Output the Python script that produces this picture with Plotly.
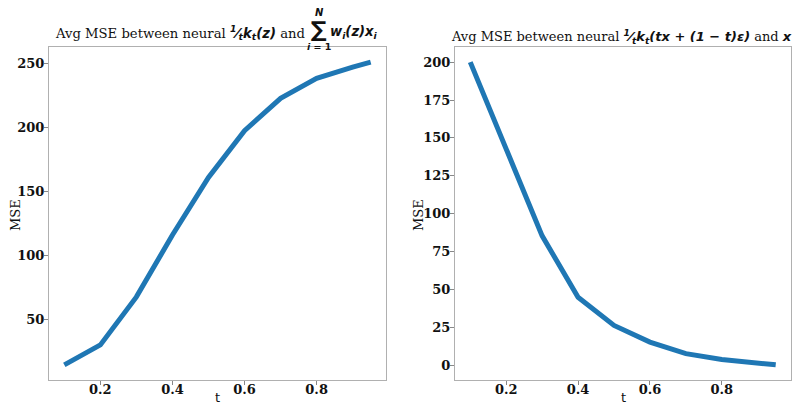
import plotly.graph_objects as go

t_vals = [0.1, 0.2, 0.3, 0.4, 0.5, 0.6, 0.7, 0.8, 0.9, 0.95]
mse_weighted = [14.4, 30.0, 67.6, 116.0, 161.0, 197.6, 223.0, 238.6, 247.4, 251.3]
mse_noisy = [200.0, 142.0, 85.4, 44.9, 26.3, 15.3, 7.7, 3.9, 1.5, 0.3]

x_ticks = [0.2, 0.4, 0.6, 0.8]
y_ticks_left = [50, 100, 150, 200, 250]
y_ticks_right = [0, 25, 50, 75, 100, 125, 150, 175, 200]

BLUE = "#1f77b4"
SERIF = "DejaVu Serif"
SANS = "DejaVu Sans"
W, H = 797, 405


def padded(vals, frac=0.05):
    lo, hi = min(vals), max(vals)
    p = (hi - lo) * frac
    return [lo - p, hi + p]


fig = go.Figure()
fig.add_trace(go.Scatter(x=t_vals, y=mse_weighted, mode="lines",
                         line=dict(color=BLUE, width=5), xaxis="x", yaxis="y",
                         showlegend=False))
fig.add_trace(go.Scatter(x=t_vals, y=mse_noisy, mode="lines",
                         line=dict(color=BLUE, width=5), xaxis="x2", yaxis="y2",
                         showlegend=False))

ydom = [1 - 380 / H, 1 - 47 / H]
axis_common = dict(showgrid=False, zeroline=False, showline=True, mirror=True,
                   linecolor="#b0b0b0", linewidth=1, ticks="outside",
                   ticklen=4, tickcolor="#888", automargin=False,
                   tickfont=dict(family=SERIF, size=13, color="#111"))
xcommon = dict(axis_common, ticklabelstandoff=-7)
ycommon = dict(axis_common, ticklabelstandoff=-3)

fig.update_layout(
    width=W, height=H,
    margin=dict(l=0, r=0, t=0, b=0, autoexpand=False),
    paper_bgcolor="white", plot_bgcolor="white",
    xaxis=dict(domain=[49 / W, 386 / W], range=padded(t_vals), tickvals=x_ticks,
               ticktext=["<b>%.1f</b>" % v for v in x_ticks], **xcommon),
    yaxis=dict(domain=ydom, range=padded(mse_weighted), tickvals=y_ticks_left,
               ticktext=["<b>%d</b>" % v for v in y_ticks_left], **ycommon),
    xaxis2=dict(domain=[455 / W, 791 / W], range=padded(t_vals), tickvals=x_ticks,
                ticktext=["<b>%.1f</b>" % v for v in x_ticks], anchor="y2", **xcommon),
    yaxis2=dict(domain=ydom, range=padded(mse_noisy), tickvals=y_ticks_right,
                ticktext=["<b>%d</b>" % v for v in y_ticks_right], anchor="x2", **ycommon),
)


def ann(text, px, py, size, family=SERIF, angle=0, xanchor="center"):
    fig.add_annotation(text=text, x=px / W, y=1 - py / H, xref="paper", yref="paper",
                       xanchor=xanchor, yanchor="middle", showarrow=False, textangle=angle,
                       font=dict(family=family, size=size, color="#111"))


# axis titles
ann("MSE", 15, 215, 13, angle=-90)
ann("MSE", 418, 215, 13, angle=-90)
ann("t", 217, 397, 13, family=SANS)
ann("t", 623, 397, 13, family=SANS)

m = '<span style="font-family:%s"><b><i>%s</i></b></span>'
left_title_a = ("Avg MSE between neural "
                + m % (SANS, "<sup>1</sup>⁄<sub>t</sub>k<sub>t</sub>(z)") + " and")
right_title = ("Avg MSE between neural "
               + m % (SANS, "<sup>1</sup>⁄<sub>t</sub>k<sub>t</sub>(tx + (1 − t)ε)")
               + " and " + m % (SANS, "x"))

ann(left_title_a, 307, 32, 13.2, xanchor="right")
ann("<b>∑</b>", 319, 29, 22, family=SANS)
ann("<b><i>N</i></b>", 319, 12, 10, family=SANS)
ann("<b><i>i</i> = 1</b>", 319, 46, 9.5, family=SANS)
ann(m % (SANS, "w<sub>i</sub>(z)x<sub>i</sub>"), 328, 32, 13.2, xanchor="left")
ann(right_title, 621, 37, 13)

fig.write_html("out.html")
